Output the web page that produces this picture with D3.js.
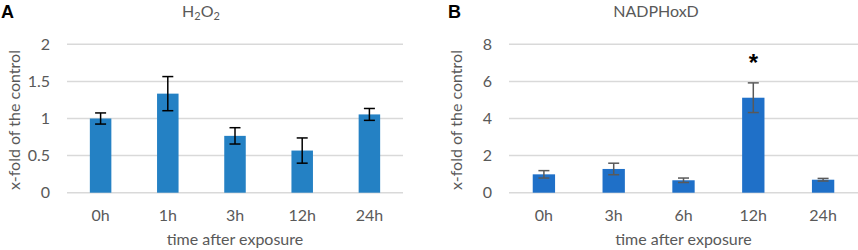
<!DOCTYPE html>
<html>
<head>
<meta charset="utf-8">
<script src="https://cdn.jsdelivr.net/npm/d3@7"></script>
<style>
  body { margin: 0; background: #fff; }
  text { font-family: Lato, "Liberation Sans", sans-serif; fill: #595959; }
</style>
</head>
<body>
<div id="chart"></div>
<script>
// panel A: H2O2
let catsA = ["0h", "1h", "3h", "12h", "24h"];
let valsA = [1.0, 1.335, 0.766, 0.568, 1.055];
let errsA = [0.075, 0.23, 0.11, 0.17, 0.08];
let ticksA = [0, 0.5, 1, 1.5, 2];

// panel B: NADPHoxD
let catsB = ["0h", "3h", "6h", "12h", "24h"];
let valsB = [0.99, 1.28, 0.67, 5.12, 0.70];
let errsB = [0.2, 0.31, 0.12, 0.8, 0.07];
let ticksB = [0, 2, 4, 6, 8];
let starsB = ["", "", "", "*", ""];

let svg = d3.select("#chart").append("svg")
  .attr("width", 858).attr("height", 250);

function panel(opt) {
  let g = svg.append("g").attr("transform", "translate(" + opt.ox + ",0)");

  let x = d3.scaleBand().domain(opt.cats).range([opt.x0, opt.x1]).paddingInner(0.68).paddingOuter(0.34);
  let y = d3.scaleLinear().domain([0, opt.max]).range([192.7, 44.3]);

  // gridlines
  g.selectAll(".grid").data(opt.ticks).enter().append("line")
    .attr("x1", opt.x0).attr("x2", opt.x1)
    .attr("y1", d => y(d)).attr("y2", d => y(d))
    .attr("stroke", "#d9d9d9").attr("stroke-width", 1.5);

  // y tick labels
  g.selectAll(".ytick").data(opt.ticks).enter().append("text")
    .attr("x", opt.x0 - 17).attr("y", d => y(d) + 5.5)
    .attr("text-anchor", "end").style("font-size", "16px")
    .text(d => d);

  // bars
  g.selectAll(".bar").data(opt.vals).enter().append("rect")
    .attr("x", (d, i) => x(opt.cats[i]))
    .attr("width", x.bandwidth())
    .attr("y", d => y(d))
    .attr("height", d => y(0) - y(d))
    .attr("fill", opt.color);

  // error bars
  let eb = g.selectAll(".err").data(opt.vals).enter().append("g")
    .attr("stroke", opt.errColor).attr("stroke-width", 1.5);
  let cx = i => x(opt.cats[i]) + x.bandwidth() / 2;
  eb.append("line")
    .attr("x1", (d, i) => cx(i)).attr("x2", (d, i) => cx(i))
    .attr("y1", (d, i) => y(d + opt.errs[i])).attr("y2", (d, i) => y(d - opt.errs[i]));
  eb.append("line")
    .attr("x1", (d, i) => cx(i) - 5.5).attr("x2", (d, i) => cx(i) + 5.5)
    .attr("y1", (d, i) => y(d + opt.errs[i])).attr("y2", (d, i) => y(d + opt.errs[i]));
  eb.append("line")
    .attr("x1", (d, i) => cx(i) - 5.5).attr("x2", (d, i) => cx(i) + 5.5)
    .attr("y1", (d, i) => y(d - opt.errs[i])).attr("y2", (d, i) => y(d - opt.errs[i]));

  // significance marks
  if (opt.stars) {
    g.selectAll(".star").data(opt.stars).enter().append("text")
      .attr("x", (d, i) => cx(i)).attr("y", (d, i) => y(opt.vals[i] + opt.errs[i]) - 12)
      .attr("text-anchor", "middle")
      .style("font-family", "'Liberation Sans', Arial, sans-serif")
      .style("font-size", "24px").style("font-weight", "bold").style("fill", "#000")
      .text(d => d);
  }

  // x tick labels
  g.selectAll(".xtick").data(opt.cats).enter().append("text")
    .attr("x", d => x(d) + x.bandwidth() / 2).attr("y", 221)
    .attr("text-anchor", "middle").style("font-size", "16px")
    .text(d => d);

  // axis titles
  g.append("text")
    .attr("x", (opt.x0 + opt.x1) / 2).attr("y", 245)
    .attr("text-anchor", "middle").style("font-size", "16px")
    .text("time after exposure");
  g.append("text")
    .attr("transform", "translate(" + (opt.x0 - 47) + ",120) rotate(-90)")
    .attr("text-anchor", "middle").style("font-size", "16px")
    .text("x-fold of the control");

  // chart title
  let t = g.append("text")
    .attr("x", opt.titleX).attr("y", 17)
    .attr("text-anchor", "middle").style("font-size", "16px");
  opt.title.forEach(function(p) {
    t.append("tspan").attr("baseline-shift", p[1] ? "-3" : null)
      .style("font-size", p[1] ? "11px" : null).text(p[0]);
  });

  // panel letter
  g.append("text")
    .attr("x", opt.letterX).attr("y", 18)
    .style("font-family", "'Liberation Sans', Arial, sans-serif")
    .style("font-size", "18px").style("font-weight", "bold").style("fill", "#000")
    .text(opt.letter);
}

panel({
  ox: 0, x0: 67, x1: 403, max: 2,
  cats: catsA, vals: valsA, errs: errsA, ticks: ticksA,
  color: "#2481c4", errColor: "#000",
  title: [["H", false], ["2", true], ["O", false], ["2", true]],
  titleX: 201, letter: "A", letterX: 1
});

panel({
  ox: 430, x0: 79, x1: 428, max: 8,
  cats: catsB, vals: valsB, errs: errsB, ticks: ticksB, stars: starsB,
  color: "#1f70c8", errColor: "#595959",
  title: [["NADPHoxD", false]],
  titleX: 226, letter: "B", letterX: 18
});
</script>
</body>
</html>
